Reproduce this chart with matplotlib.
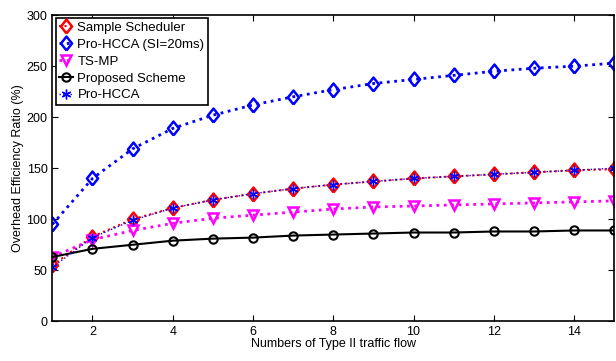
import matplotlib.pyplot as plt

plt.rcParams['font.family'] = ['Liberation Sans', 'DejaVu Sans']

flows = list(range(1, 16))
sample_sched = [55, 83, 100, 111, 119, 125, 130, 134, 137, 140, 142, 144, 146, 148, 149]
pro_hcca_si20 = [95, 140, 169, 189, 202, 212, 220, 227, 233, 237, 241, 245, 248, 250, 253]
ts_mp = [63, 80, 89, 96, 101, 104, 107, 110, 112, 113, 114, 115, 116, 117, 118]
proposed = [63, 71, 75, 79, 81, 82, 84, 85, 86, 87, 87, 88, 88, 89, 89]
pro_hcca = [53, 82, 99, 111, 119, 125, 130, 134, 137, 140, 142, 144, 146, 148, 150]

fig = plt.figure(figsize=(6.16, 3.61), dpi=100)
ax = fig.add_axes([0.085, 0.11, 0.912, 0.848])

# diamonds a bit taller than wide, like the original
diamond = [(0, -1), (0.8, 0), (0, 1), (-0.8, 0), (0, -1)]
ax.plot(flows, sample_sched, ':', color='red', lw=1.5, marker=diamond, ms=10,
        mfc='none', mec='red', mew=1.8, label='Sample Scheduler')
ax.plot(flows, pro_hcca_si20, ':', color='blue', lw=2, marker=diamond, ms=10,
        mfc='none', mec='blue', mew=1.8, label='Pro-HCCA (SI=20ms)')
ax.plot(flows, ts_mp, ':', color='magenta', lw=2, marker='v', ms=7,
        mfc='none', mec='magenta', mew=1.8, label='TS-MP')
ax.plot(flows, proposed, '-', color='black', lw=1.5, marker='o', ms=6,
        mfc='none', mec='black', mew=1.5, label='Proposed Scheme')
ax.plot(flows, pro_hcca, ':', color='blue', lw=1, marker=(6, 2, 0), ms=7,
        mec='blue', mew=1, label='Pro-HCCA')

ax.set_xlim(1, 15)
ax.set_ylim(0, 300)
ax.set_xticks([2, 4, 6, 8, 10, 12, 14])
ax.set_yticks(range(0, 301, 50))
ax.tick_params(direction='in', labelsize=9, top=True, right=True, length=4)
for s in ax.spines.values():
    s.set_linewidth(1.2)
ax.set_xlabel('Numbers of Type II traffic flow', fontsize=9, labelpad=0)
ax.set_ylabel('Overhead Efficiency Ratio (%)', fontsize=9, labelpad=2)

leg = ax.legend(loc='upper left', fontsize=9.5, handlelength=1.1, handletextpad=0.3,
                borderpad=0.25, labelspacing=0.35, fancybox=False, framealpha=1,
                borderaxespad=0.25)
leg.get_frame().set_edgecolor('black')
leg.get_frame().set_linewidth(1.2)

plt.savefig('out.png')
plt.close()
